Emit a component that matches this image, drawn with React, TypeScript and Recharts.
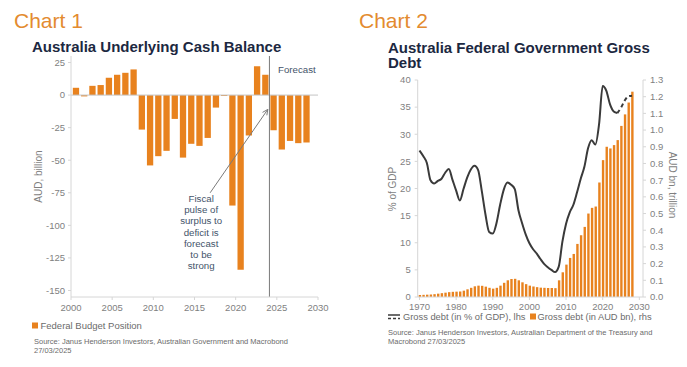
import React from 'react';
import { BarChart, Bar, XAxis, YAxis, ReferenceLine, ComposedChart, Line } from 'recharts';

const FONT = '"Liberation Sans", Arial, sans-serif';
const ORANGE = '#e8821e';
const TITLE_ORANGE = '#e38b2f';
const NAVY = '#1c2841';
const TICK_GREY = '#7f7f7f';
const AXIS_GREY = '#d6d6d6';
const NOTE_BLUE = '#44546a';

// Chart 1: underlying cash balance, AUD bn (fiscal years)
const cashYears = [2000, 2001, 2002, 2003, 2004, 2005, 2006, 2007, 2008, 2009, 2010, 2011, 2012, 2013, 2014,
    2015, 2016, 2017, 2018, 2019, 2020, 2021, 2022, 2023, 2024, 2025, 2026, 2027, 2028];
const cashBalance = [5.6, -1, 7.1, 7.7, 13.3, 15.6, 17.1, 19.7, -26.5, -54, -46.9, -42.8, -18.3, -48, -37.4,
    -39, -32.9, -9.6, -0.7, -84.8, -134, -31, 22.2, 15.6, -27, -41.8, -35.2, -36.9, -36.4];
const cashXTicks = [2000, 2005, 2010, 2015, 2020, 2025, 2030];
const cashYTicks = [-150, -125, -100, -75, -50, -25, 0, 25];
const noteLines = ['Fiscal', 'pulse of', 'surplus to', 'deficit is', 'forecast', 'to be', 'strong'];

// Chart 2: federal government gross debt
const debtYears = Array.from({ length: 59 }, (_, i) => 1970 + i);
const debtPctGdp = [27.0, 26.0, 24.7, 21.5, 20.9, 21.4, 21.8, 22.9, 23.6, 21.6,
    19.6, 17.8, 19.9, 22.0, 23.5, 24.2, 23.4, 19.5, 15.2, 12.0,
    11.7, 13.6, 17.0, 19.8, 21.1, 20.7, 19.9, 16.0, 13.6, 11.5,
    9.9, 8.8, 8.0, 7.0, 6.1, 5.5, 5.0, 4.6, 5.6, 10.2,
    13.5, 15.6, 17.0, 19.3, 21.8, 24.0, 27.4, 28.9, 28.1, 31.8,
    38.9, 38.0, 35.5, 34.2, 33.9];
const debtPctForecastYears = [2024, 2025, 2026, 2027, 2028];
const debtPctForecast = [33.9, 34.9, 36.2, 37.0, 37.1];
const debtAudTn = [0.012, 0.013, 0.014, 0.015, 0.017, 0.020, 0.023, 0.026, 0.029, 0.031,
    0.032, 0.033, 0.038, 0.046, 0.055, 0.064, 0.068, 0.067, 0.062, 0.055,
    0.050, 0.055, 0.068, 0.085, 0.100, 0.108, 0.109, 0.100, 0.088, 0.077,
    0.068, 0.063, 0.059, 0.056, 0.055, 0.054, 0.054, 0.053, 0.100, 0.148,
    0.194, 0.234, 0.258, 0.318, 0.370, 0.420, 0.500, 0.534, 0.542, 0.686,
    0.820, 0.900, 0.890, 0.910, 0.940, 1.025, 1.094, 1.165, 1.230];
const debtXTicks = [1970, 1980, 1990, 2000, 2010, 2020, 2030];
const debtLeftTicks = [0, 5, 10, 15, 20, 25, 30, 35, 40];
const debtRightTicks = [0, 0.1, 0.2, 0.3, 0.4, 0.5, 0.6, 0.7, 0.8, 0.9, 1.0, 1.1, 1.2, 1.3];

const cashData = cashYears.map((y, i) => ({ x: y + 0.6, value: cashBalance[i] }));

const debtData = debtYears.map((y, i) => {
    const fi = debtPctForecastYears.indexOf(y);
    return {
        x: y,
        aud: debtAudTn[i],
        pct: i < debtPctGdp.length ? debtPctGdp[i] : null,
        pctF: fi >= 0 ? debtPctForecast[fi] : null,
    };
});

const tickStyle = { fill: TICK_GREY, fontSize: 9.5, fontFamily: FONT };

// arrow + note text for the fiscal pulse annotation
function ArrowNote(props: any) {
    const { x1, y1, x2, y2 } = props;
    const ang = Math.atan2(y2 - y1, x2 - x1);
    const len = 6;
    const p1 = `${x2 + len * Math.cos(ang + Math.PI - 0.45)},${y2 + len * Math.sin(ang + Math.PI - 0.45)}`;
    const p2 = `${x2 + len * Math.cos(ang + Math.PI + 0.45)},${y2 + len * Math.sin(ang + Math.PI + 0.45)}`;
    return (
        <g>
            <line x1={x1} y1={y1} x2={x2} y2={y2} stroke="#7a7a7a" strokeWidth={1} />
            <polyline points={`${p1} ${x2},${y2} ${p2}`} fill="none" stroke="#7a7a7a" strokeWidth={1} />
            <text textAnchor="middle" fontSize={9.7} fontFamily={FONT} fill={NOTE_BLUE}>
                {noteLines.map((t, i) => (
                    <tspan key={i} x={x1 - 9} y={y1 + 9.5 + i * 11.1}>{t}</tspan>
                ))}
            </text>
        </g>
    );
}

function CashChart() {
    return (
        <BarChart width={345} height={320} data={cashData} margin={{ top: 56, right: 27, bottom: 3, left: 31 }}>
            <XAxis
                type="number"
                dataKey="x"
                domain={[2000, 2030]}
                ticks={cashXTicks}
                height={20}
                tick={tickStyle}
                tickSize={3}
                tickMargin={4}
                axisLine={{ stroke: AXIS_GREY }}
                tickLine={{ stroke: AXIS_GREY }}
            />
            <YAxis
                type="number"
                domain={[-155, 30]}
                ticks={cashYTicks}
                width={40}
                tick={tickStyle}
                tickSize={3}
                tickMargin={3}
                axisLine={{ stroke: AXIS_GREY }}
                tickLine={{ stroke: AXIS_GREY }}
            />
            <ReferenceLine y={0} stroke="#c4c4c4" />
            <Bar dataKey="value" fill={ORANGE} barSize={6.3} isAnimationActive={false} />
            <ReferenceLine x={2024.1} stroke="#7a7a7a" />
            <ReferenceLine segment={[{ x: 2016.9, y: -75 }, { x: 2023.9, y: -11 }]} shape={ArrowNote} />
        </BarChart>
    );
}

function DebtChart() {
    return (
        <ComposedChart width={342} height={320} data={debtData} margin={{ top: 80, right: 4, bottom: 3, left: 32 }}>
            <XAxis
                type="number"
                dataKey="x"
                domain={[1969.5, 2031]}
                ticks={debtXTicks}
                height={20}
                tick={tickStyle}
                tickSize={3}
                tickMargin={3}
                axisLine={{ stroke: AXIS_GREY }}
                tickLine={{ stroke: AXIS_GREY }}
            />
            <YAxis
                yAxisId="l"
                domain={[0, 40]}
                ticks={debtLeftTicks}
                width={40.7}
                tick={tickStyle}
                tickSize={3}
                tickMargin={4}
                axisLine={{ stroke: AXIS_GREY }}
                tickLine={{ stroke: AXIS_GREY }}
            />
            <YAxis
                yAxisId="r"
                orientation="right"
                domain={[0, 1.3]}
                ticks={debtRightTicks}
                tickFormatter={(v: number) => v.toFixed(1)}
                width={40}
                tick={tickStyle}
                tickSize={3}
                tickMargin={4}
                axisLine={{ stroke: AXIS_GREY }}
                tickLine={{ stroke: AXIS_GREY }}
            />
            <Bar yAxisId="r" dataKey="aud" fill={ORANGE} barSize={2.4} isAnimationActive={false} />
            <Line yAxisId="l" type="monotone" dataKey="pct" stroke="#3a3a3a" strokeWidth={2} dot={false} isAnimationActive={false} />
            <Line yAxisId="l" type="monotone" dataKey="pctF" stroke="#3a3a3a" strokeWidth={2} strokeDasharray="4 3" dot={false} isAnimationActive={false} />
        </ComposedChart>
    );
}

export default function App() {
    return (
        <div style={{ position: 'absolute', left: 0, top: 0, width: 687, height: 367, background: '#fff', fontFamily: FONT }}>
            <div style={{ position: 'absolute', left: 0, top: 0 }}>
                <CashChart />
            </div>
            <div style={{ position: 'absolute', left: 345, top: 0 }}>
                <DebtChart />
            </div>
            <svg width={687} height={367} style={{ position: 'absolute', left: 0, top: 0, pointerEvents: 'none' }} fontFamily={FONT}>
                <text x={14} y={28} fontSize={21} fill={TITLE_ORANGE}>Chart 1</text>
                <text x={359} y={28} fontSize={21} fill={TITLE_ORANGE}>Chart 2</text>
                <text x={32} y={52} fontSize={15} fontWeight="bold" fill={NAVY}>Australia Underlying Cash Balance</text>
                <text x={388} y={52.5} fontSize={15} fontWeight="bold" fill={NAVY}>Australia Federal Government Gross</text>
                <text x={388} y={68} fontSize={15} fontWeight="bold" fill={NAVY}>Debt</text>

                <text x={278} y={72.5} fontSize={9.7} fill={NOTE_BLUE}>Forecast</text>
                <text transform="translate(38,176.5) rotate(-90)" textAnchor="middle" dominantBaseline="central" fontSize={10} fill={TICK_GREY}>AUD, billion</text>
                <text transform="translate(392.5,189) rotate(-90)" textAnchor="middle" dominantBaseline="central" fontSize={10} fill={TICK_GREY}>% of GDP</text>
                <text transform="translate(672,185) rotate(90)" textAnchor="middle" dominantBaseline="central" fontSize={10} fill={TICK_GREY}>AUD bn, trillion</text>

                <rect x={32} y={322.5} width={6} height={6} fill={ORANGE} />
                <text x={40.5} y={329} fontSize={9.5} fill="#6b6b6b">Federal Budget Position</text>
                <text x={34} y={344} fontSize={7.5} fill="#6b6b6b">Source: Janus Henderson Investors, Australian Government and Macrobond</text>
                <text x={34} y={352.5} fontSize={7.5} fill="#6b6b6b">27/03/2025</text>

                <line x1={388} y1={315} x2={400} y2={315} stroke="#3a3a3a" strokeWidth={1.5} />
                <line x1={388} y1={318.5} x2={400} y2={318.5} stroke="#3a3a3a" strokeWidth={1.5} strokeDasharray="3 2" />
                <text x={403} y={320} fontSize={9.3} fill="#6b6b6b">Gross debt (in % of GDP), lhs</text>
                <rect x={530} y={313.5} width={6} height={6} fill={ORANGE} />
                <text x={537.5} y={320} fontSize={9.3} fill="#6b6b6b">Gross debt (in AUD bn), rhs</text>
                <text x={388} y={335} fontSize={7.5} fill="#6b6b6b">Source: Janus Henderson Investors, Australian Department of the Treasury and</text>
                <text x={388} y={343.5} fontSize={7.5} fill="#6b6b6b">Macrobond  27/03/2025</text>
            </svg>
        </div>
    );
}
